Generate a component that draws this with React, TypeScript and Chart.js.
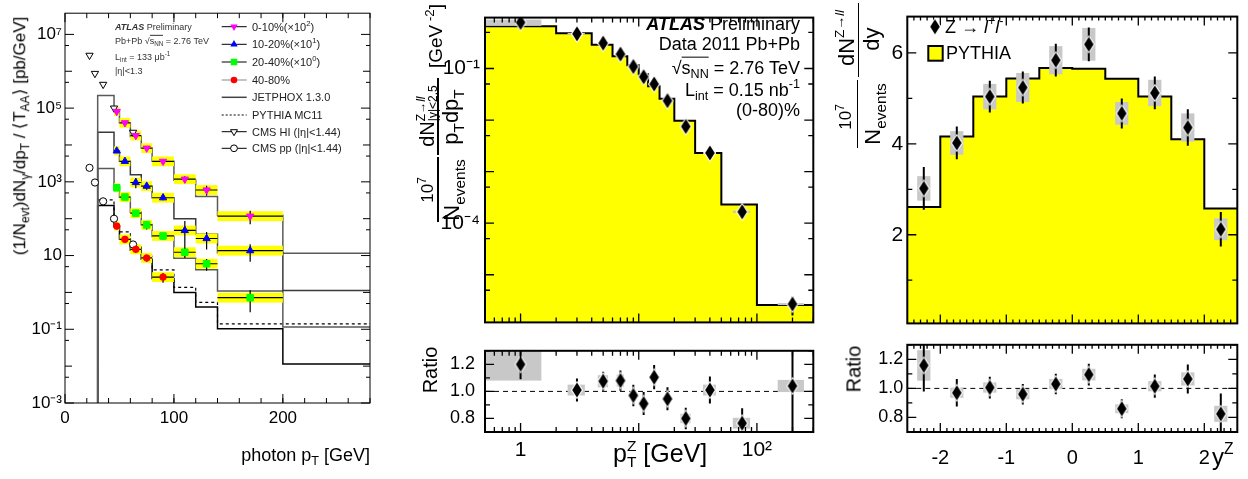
import React, { useEffect, useRef } from 'react';
import { Chart, registerables } from 'chart.js';

Chart.register(...registerables);

const FONT = "'Liberation Sans', Arial, Helvetica, sans-serif";
const YELLOW = '#ffff00';
const GRAY = '#c8c8c8';

/* ================= Left panel: isolated photons ================= */
const photonBinLo = [45, 50, 60, 70, 80, 100, 120, 140];
const photonBinHi = [50, 60, 70, 80, 100, 120, 140, 200];
const photonPt = [47.5, 55, 65, 75, 90, 110, 130, 170];
const photon0to10 = [8.1e4, 4.0e4, 1.8e4, 8.2e3, 3.6e3, 1.18e3, 600, 117];
const photon10to20 = [6.9e3, 3.6e3, 960, 765, 370, 48, 29, 13.6];
const photon20to40 = [690, 387, 141, 68, 34, 12.3, 6.0, 0.72];
const photon40to80 = [63, 27.5, 14.8, 8.6, 2.6];
const photonStat0to10 = [0.05, 0.06, 0.1, 0.1, 0.12, 0.2, 0.3, 0.4];
const photonStat10to20 = [0.1, 0.1, 0.3, 0.2, 0.15, 0.8, 0.5, 0.5];
const photonStat20to40 = [0.1, 0.1, 0.15, 0.25, 0.2, 0.3, 0.35, 0.6];
const photonStat40to80 = [0.1, 0.15, 0.2, 0.2, 0.3];
const photonSys = [1.32, 1.36, 1.36, 1.36, 1.36, 1.36, 1.36, 1.36];

const theoryEdges = [30, 45, 50, 60, 70, 80, 100, 120, 140, 200, 280];
const jetphox0to10 = [2.2e5, 8.5e4, 4.0e4, 1.7e4, 8.3e3, 3.6e3, 1.1e3, 400, 125, 11.5];
const jetphox10to20 = [2.2e4, 6.9e3, 3.6e3, 1.55e3, 760, 370, 100, 38, 12, 1.12];
const jetphox20to40 = [2.3e3, 720, 380, 150, 70, 33, 8.5, 4.1, 1.1, 0.115];
const jetphox40to80 = [229, 62, 28, 14, 8.0, 2.4, 1.0, 0.4, 0.104, 0.0115];
const pythia40to80 = [324, 68, 44, 17, 9.5, 4.1, 1.37, 0.54, 0.141, 0.141];

const cmsPt = [22.5, 27.5, 35, 45, 62.5];
const cmsHI = [2.7e6, 8.7e5, 4.4e5, 1.0e5, 2.2e4];
const cmsPP = [2.4e3, 960, 296, 100, 20];

const photonXTicks = [0, 100, 200];
const photonXLabels = ['0', '100', '200'];
const photonYTicks = [1e-3, 1e-1, 10, 1e3, 1e5, 1e7];
const photonYLabels = ['10⁻³', '10⁻¹', '10', '10³', '10⁵', '10⁷'];

/* ================= Middle panel: Z pT ================= */
const zptBinLo = [0, 2, 4, 6, 8, 10, 12, 15, 20, 30, 50, 100];
const zptBinHi = [2, 4, 6, 8, 10, 12, 15, 20, 30, 50, 100, 300];
const zptCenter = [1, 3, 5, 7, 9, 11, 13.5, 17.5, 25, 40, 75, 200];
const zptData = [0.78, 0.47, 0.31, 0.19, 0.109, 0.069, 0.05, 0.0237, 0.0075, 0.0023, 1.66e-4, 2.7e-6];
const zptStat = [0.1, 0.08, 0.07, 0.07, 0.08, 0.09, 0.08, 0.09, 0.1, 0.1, 0.14, 0.4];
const zptSys = [0.14, 0.04, 0.045, 0.045, 0.03, 0.03, 0.03, 0.03, 0.04, 0.04, 0.05, 0.045];
const zptPythia = [0.66, 0.48, 0.29, 0.172, 0.115, 0.077, 0.045, 0.026, 0.0097, 0.0023, 2.3e-4, 2.6e-6];
const zptRatio = [1.2, 1.01, 1.075, 1.08, 0.97, 0.91, 1.105, 0.945, 0.8, 1.01, 0.765, 1.04];
const zptRatioStat = [0.11, 0.085, 0.07, 0.075, 0.08, 0.085, 0.09, 0.085, 0.08, 0.1, 0.11, 0.5];
const zptRatioSys = [0.12, 0.04, 0.045, 0.045, 0.02, 0.02, 0.02, 0.02, 0.035, 0.04, 0.04, 0.045];
const zptXTicks = [1, 100];
const zptXLabels = ['1', '10²'];
const zptYTicks = [1e-5, 1e-4, 1e-3, 1e-2, 1e-1];
const zptYLabels = ['', '10⁻⁴', '', '', '10⁻¹'];
const ZPT_MIN = 0.5;
const ZPT_MAX = 300;

/* ================= Right panel: Z rapidity ================= */
const rapEdges = [-2.5, -2, -1.5, -1, -0.5, 0, 0.5, 1, 1.5, 2, 2.5];
const rapCenter = [-2.25, -1.75, -1.25, -0.75, -0.25, 0.25, 0.75, 1.25, 1.75, 2.25];
const rapData = [3.02, 4.02, 5.04, 5.24, 5.84, 6.19, 4.67, 5.12, 4.36, 2.12];
const rapStat = [0.47, 0.36, 0.35, 0.35, 0.36, 0.37, 0.33, 0.36, 0.4, 0.38];
const rapSys = [0.27, 0.26, 0.28, 0.32, 0.31, 0.36, 0.25, 0.29, 0.31, 0.24];
const rapPythia = [2.61, 4.16, 5.04, 5.44, 5.67, 5.65, 5.43, 5.04, 4.1, 2.58];
const rapRatio = [1.158, 0.97, 1.006, 0.96, 1.03, 1.095, 0.86, 1.015, 1.065, 0.825];
const rapRatioStat = [0.18, 0.095, 0.075, 0.07, 0.07, 0.075, 0.065, 0.08, 0.1, 0.14];
const rapRatioSys = [0.105, 0.035, 0.035, 0.035, 0.035, 0.04, 0.03, 0.035, 0.045, 0.055];
const rapXTicks = [-2, -1, 0, 1, 2];
const rapXLabels = ['-2', '-1', '0', '1', '2'];
const rapYTicks = [2, 4, 6];
const rapYLabels = ['2', '4', '6'];
const ratioYTicks = [0.8, 1.0, 1.2];
const ratioYLabels = ['0.8', '1.0', '1.2'];

/* ================= helpers ================= */
type Pt = { x: number; y: number };
const zip = (xs: number[], ys: number[]): Pt[] => ys.map((y, i) => ({ x: xs[i], y }));
function stepPoints(edges: number[], vals: number[], floor?: number): Pt[] {
  const pts: Pt[] = [];
  if (floor !== undefined) pts.push({ x: edges[0], y: floor });
  vals.forEach((v, i) => pts.push({ x: edges[i], y: v }));
  pts.push({ x: edges[vals.length], y: vals[vals.length - 1] });
  return pts;
}
function decades(lo: number, hi: number, mult: number): number[] {
  const out: number[] = [];
  for (let e = lo; e <= hi; e++) out.push(mult * Math.pow(10, e));
  return out;
}
function steps(a: number, b: number, d: number): number[] {
  const out: number[] = [];
  for (let v = a; v <= b + 1e-9; v += d) out.push(Math.round(v * 1000) / 1000);
  return out;
}

let diamondImg: HTMLCanvasElement | null = null;
function diamond() {
  if (diamondImg) return diamondImg;
  const c = document.createElement('canvas');
  c.width = 14;
  c.height = 20;
  const g = c.getContext('2d')!;
  g.beginPath();
  g.moveTo(7, 0.8); g.lineTo(13.2, 10); g.lineTo(7, 19.2); g.lineTo(0.8, 10); g.closePath();
  g.fillStyle = '#fff'; g.fill();
  g.beginPath();
  g.moveTo(7, 2.4); g.lineTo(11.8, 10); g.lineTo(7, 17.6); g.lineTo(2.2, 10); g.closePath();
  g.fillStyle = '#000'; g.fill();
  diamondImg = c;
  return c;
}

function drawShape(ctx: CanvasRenderingContext2D, kind: string, x: number, y: number, r: number, fill?: string, stroke?: string) {
  ctx.beginPath();
  if (kind === 'triDown') {
    ctx.moveTo(x, y + r); ctx.lineTo(x + r * 0.866, y - r / 2); ctx.lineTo(x - r * 0.866, y - r / 2); ctx.closePath();
  } else if (kind === 'triUp') {
    ctx.moveTo(x, y - r); ctx.lineTo(x + r * 0.866, y + r / 2); ctx.lineTo(x - r * 0.866, y + r / 2); ctx.closePath();
  } else if (kind === 'square') {
    ctx.rect(x - r * 0.707, y - r * 0.707, r * 1.414, r * 1.414);
  } else {
    ctx.arc(x, y, r, 0, Math.PI * 2);
  }
  if (fill) { ctx.fillStyle = fill; ctx.fill(); }
  if (stroke) { ctx.strokeStyle = stroke; ctx.lineWidth = 1; ctx.stroke(); }
}

/* ================= plugins ================= */
const rootFrame = {
  id: 'rootFrame',
  afterDraw(chart: any, _a: any, o: any) {
    if (!o || !o.xTicks) return;
    const { ctx, chartArea: a } = chart;
    const xs = chart.scales.x;
    const ys = chart.scales.y;
    ctx.save();
    ctx.strokeStyle = '#000';
    ctx.lineWidth = o.tickWidth || 1;
    ctx.beginPath();
    (o.xTicks as any[]).forEach((g) => g.vals.forEach((v: number) => {
      const p = xs.getPixelForValue(v);
      if (!(p >= a.left - 0.5 && p <= a.right + 0.5)) return;
      ctx.moveTo(p, a.bottom); ctx.lineTo(p, a.bottom - g.len);
      ctx.moveTo(p, a.top); ctx.lineTo(p, a.top + g.len);
    }));
    (o.yTicks as any[]).forEach((g) => g.vals.forEach((v: number) => {
      const p = ys.getPixelForValue(v);
      if (!(p >= a.top - 0.5 && p <= a.bottom + 0.5)) return;
      ctx.moveTo(a.left, p); ctx.lineTo(a.left + g.len, p);
      ctx.moveTo(a.right, p); ctx.lineTo(a.right - g.len, p);
    }));
    ctx.stroke();
    ctx.lineWidth = o.frameWidth || 1;
    ctx.strokeRect(a.left, a.top, a.right - a.left, a.bottom - a.top);
    ctx.restore();
  },
};

const decor = {
  id: 'decor',
  beforeDatasetDraw(chart: any, args: any, o: any) {
    const ds = chart.data.datasets[args.index];
    if (!ds || !ds.decorBefore || !o) return;
    const { ctx, chartArea: a } = chart;
    const xs = chart.scales.x;
    const ys = chart.scales.y;
    ctx.save();
    ctx.beginPath();
    ctx.rect(a.left, a.top, a.right - a.left, a.bottom - a.top);
    ctx.clip();
    (o.boxes || []).forEach((b: any) => {
      const x0 = xs.getPixelForValue(b.x0), x1 = xs.getPixelForValue(b.x1);
      const y0 = ys.getPixelForValue(b.y0), y1 = ys.getPixelForValue(b.y1);
      ctx.fillStyle = b.color;
      ctx.fillRect(Math.min(x0, x1), Math.min(y0, y1), Math.abs(x1 - x0), Math.abs(y1 - y0));
    });
    (o.hbars || []).forEach((b: any) => {
      const y = ys.getPixelForValue(b.y);
      ctx.strokeStyle = b.color; ctx.lineWidth = b.w;
      ctx.beginPath(); ctx.moveTo(xs.getPixelForValue(b.x0), y); ctx.lineTo(xs.getPixelForValue(b.x1), y); ctx.stroke();
    });
    (o.vbars || []).forEach((b: any) => {
      const x = xs.getPixelForValue(b.x);
      ctx.strokeStyle = b.color; ctx.lineWidth = b.w;
      ctx.beginPath(); ctx.moveTo(x, ys.getPixelForValue(b.y0)); ctx.lineTo(x, ys.getPixelForValue(b.y1)); ctx.stroke();
    });
    ctx.restore();
  },
};

const symbols = {
  id: 'symbols',
  afterDraw(chart: any, _a: any, o: any) {
    if (!o || !o.items) return;
    const ctx: CanvasRenderingContext2D = chart.ctx;
    ctx.save();
    (o.items as any[]).forEach((it) => {
      if (it.t === 'line') {
        ctx.strokeStyle = it.color; ctx.lineWidth = it.w; ctx.setLineDash(it.dash || []);
        ctx.beginPath(); ctx.moveTo(it.x0, it.y); ctx.lineTo(it.x1, it.y); ctx.stroke();
        ctx.setLineDash([]);
      } else if (it.t === 'shape') {
        drawShape(ctx, it.kind, it.x, it.y, it.r, it.fill, it.stroke);
      } else if (it.t === 'img') {
        ctx.drawImage(it.img, it.x - it.img.width / 2, it.y - it.img.height / 2);
      } else if (it.t === 'rect') {
        ctx.fillStyle = it.fill; ctx.fillRect(it.x0, it.y0, it.x1 - it.x0, it.y1 - it.y0);
        ctx.strokeStyle = it.stroke; ctx.lineWidth = it.w; ctx.strokeRect(it.x0, it.y0, it.x1 - it.x0, it.y1 - it.y0);
      }
    });
    ctx.restore();
  },
};

Chart.register(rootFrame, decor, symbols);

function axis(o: {
  type: 'linear' | 'logarithmic'; min: number; max: number; isX: boolean; size: number;
  ticks: number[]; labels: string[] | null; font?: number; pad?: number;
}) {
  return {
    type: o.type,
    min: o.min,
    max: o.max,
    display: true,
    grid: { display: false, drawTicks: false },
    border: { display: false },
    afterFit: (s: any) => { if (o.isX) s.height = o.size; else s.width = o.size; },
    afterBuildTicks: (s: any) => { s.ticks = o.ticks.map((v) => ({ value: v })); },
    ticks: {
      display: !!o.labels,
      autoSkip: false,
      maxRotation: 0,
      minRotation: 0,
      padding: o.pad ?? 4,
      color: '#000',
      font: { family: FONT, size: o.font ?? 16 },
      callback: (_v: any, i: number) => (o.labels ? o.labels[i] ?? '' : ''),
    },
  };
}

function baseOptions(padding: any, x: any, y: any, plugins: any) {
  return {
    responsive: false,
    animation: false,
    events: [],
    layout: { padding },
    plugins: { legend: { display: false }, tooltip: { enabled: false }, ...plugins },
    scales: { x, y },
  };
}

const markerSet = (data: Pt[], style: any, rot: number, r: number, fill: string, border: string, extra: any = {}) => ({
  data, showLine: false, pointStyle: style, pointRotation: rot, pointRadius: r,
  pointBackgroundColor: fill, pointBorderColor: border, pointBorderWidth: 1, ...extra,
});
const histSet = (data: Pt[], color: string, width: number, extra: any = {}) => ({
  data, showLine: true, stepped: 'before', borderColor: color, borderWidth: width, pointRadius: 0, fill: false, ...extra,
});

/* ================= configs ================= */
function leftConfig() {
  const cent = [
    { vals: photon0to10, stat: photonStat0to10, color: '#ff00ff', style: 'triangle', rot: 180, r: 4.2 },
    { vals: photon10to20, stat: photonStat10to20, color: '#0000ff', style: 'triangle', rot: 0, r: 4.2 },
    { vals: photon20to40, stat: photonStat20to40, color: '#00ff00', style: 'rect', rot: 0, r: 4.6 },
    { vals: photon40to80, stat: photonStat40to80, color: '#ff0000', style: 'circle', rot: 0, r: 3.3 },
  ];
  const boxes: any[] = [], hbars: any[] = [], vbars: any[] = [];
  cent.forEach((c) => c.vals.forEach((v, i) => {
    boxes.push({ x0: photonBinLo[i], x1: photonBinHi[i], y0: v / photonSys[i], y1: v * photonSys[i], color: YELLOW });
  }));
  cent.forEach((c) => c.vals.forEach((v, i) => {
    hbars.push({ x0: photonBinLo[i], x1: photonBinHi[i], y: v, w: 1.2, color: '#000' });
    vbars.push({ x: photonPt[i], y0: v * (1 - c.stat[i]), y1: v * (1 + c.stat[i]), w: 1.2, color: '#000' });
  }));
  const datasets = [
    ...cent.map((c) => markerSet(zip(photonPt, c.vals), c.style, c.rot, c.r, c.color, c.color)),
    markerSet(zip(cmsPt, cmsHI), 'triangle', 180, 4.2, '#fff', '#000'),
    markerSet(zip(cmsPt, cmsPP), 'circle', 0, 3.6, '#fff', '#000', { decorBefore: true }),
    histSet(stepPoints(theoryEdges, jetphox0to10, 1e-5), '#5a5a5a', 1.5),
    histSet(stepPoints(theoryEdges, jetphox10to20, 1e-5), '#3a3a3a', 1.5),
    histSet(stepPoints(theoryEdges, jetphox20to40, 1e-5), '#5a5a5a', 1.5),
    histSet(stepPoints(theoryEdges, jetphox40to80, 1e-5), '#000', 1.5),
    histSet(stepPoints(theoryEdges, pythia40to80), '#000', 1.2, { borderDash: [3, 3] }),
  ];
  const rows = [26.7, 44.3, 62, 80, 97.3, 115, 131.7, 148.3];
  const L0 = 221.7, L1 = 246.7, MX = 234;
  const items: any[] = [
    { t: 'line', x0: L0, x1: L1, y: rows[0], color: '#000', w: 1 },
    { t: 'shape', kind: 'triDown', x: MX, y: rows[0], r: 4.2, fill: '#ff00ff' },
    { t: 'line', x0: L0, x1: L1, y: rows[1], color: '#000', w: 1 },
    { t: 'shape', kind: 'triUp', x: MX, y: rows[1], r: 4.2, fill: '#0000ff' },
    { t: 'line', x0: L0, x1: L1, y: rows[2], color: '#000', w: 1 },
    { t: 'shape', kind: 'square', x: MX, y: rows[2], r: 4.6, fill: '#00ff00' },
    { t: 'line', x0: L0, x1: L1, y: rows[3], color: '#888', w: 1 },
    { t: 'shape', kind: 'circle', x: MX, y: rows[3], r: 3.3, fill: '#ff0000' },
    { t: 'line', x0: L0, x1: L1, y: rows[4], color: '#444', w: 1.5 },
    { t: 'line', x0: L0, x1: L1, y: rows[5], color: '#000', w: 1, dash: [2, 2] },
    { t: 'line', x0: L0, x1: L1, y: rows[6], color: '#000', w: 1 },
    { t: 'shape', kind: 'triDown', x: MX, y: rows[6], r: 4, fill: '#fff', stroke: '#000' },
    { t: 'line', x0: L0, x1: L1, y: rows[7], color: '#000', w: 1 },
    { t: 'shape', kind: 'circle', x: MX, y: rows[7], r: 3.4, fill: '#fff', stroke: '#000' },
  ];
  return {
    type: 'line',
    data: { datasets },
    options: baseOptions(
      { left: 0, top: 9.3, right: 10, bottom: 0 },
      axis({ type: 'linear', min: 0, max: 280, isX: true, size: 76, ticks: photonXTicks, labels: photonXLabels, font: 17, pad: 5 }),
      axis({ type: 'logarithmic', min: 1e-3, max: 3.76e7, isX: false, size: 65, ticks: photonYTicks, labels: photonYLabels, font: 17, pad: 3 }),
      {
        rootFrame: {
          frameWidth: 1, tickWidth: 1,
          xTicks: [{ vals: [0, 100, 200], len: 9 }, { vals: steps(20, 280, 20), len: 5 }],
          yTicks: [{ vals: decades(-3, 7, 1).filter((_, i) => i % 2 === 0), len: 9 }, { vals: decades(-2, 6, 1).filter((_, i) => i % 2 === 0), len: 7 }, { vals: decades(-3, 7, 5), len: 4 }],
        },
        decor: { boxes, hbars, vbars },
        symbols: { items },
      },
    ),
  };
}

const zptMinor = [0.6, 0.7, 0.8, 0.9, 2, 3, 4, 5, 6, 7, 8, 9, 20, 30, 40, 50, 60, 70, 80, 90, 200, 300];

function midTopConfig() {
  const boxes = zptCenter.map((c, i) => {
    const hw = (zptBinHi[i] - zptBinLo[i]) / 4;
    return { x0: c - hw, x1: c + hw, y0: zptData[i] * (1 - zptSys[i]), y1: zptData[i] * (1 + zptSys[i]), color: GRAY };
  });
  const vbars = zptCenter.map((c, i) => ({ x: c, y0: zptData[i] * (1 - zptStat[i]), y1: zptData[i] * (1 + zptStat[i]), w: 2, color: '#000' }));
  const edges = [...zptBinLo.map((v) => Math.max(v, ZPT_MIN)), zptBinHi[zptBinHi.length - 1]];
  return {
    type: 'line',
    data: {
      datasets: [
        markerSet(zip(zptCenter, zptData), diamond(), 0, 5, '#000', '#000', { decorBefore: true }),
        histSet(stepPoints(edges, zptPythia), '#000', 2, { fill: 'start', backgroundColor: YELLOW }),
      ],
    },
    options: baseOptions(
      { left: 0, top: 4, right: 6.7, bottom: 0 },
      axis({ type: 'logarithmic', min: ZPT_MIN, max: ZPT_MAX, isX: true, size: 5, ticks: zptXTicks, labels: null }),
      axis({ type: 'logarithmic', min: 1.19e-6, max: 0.97, isX: false, size: 65, ticks: zptYTicks, labels: zptYLabels, font: 21, pad: 5 }),
      {
        rootFrame: {
          frameWidth: 2, tickWidth: 1.3,
          xTicks: [{ vals: [1, 10, 100], len: 9 }, { vals: zptMinor, len: 5 }],
          yTicks: [{ vals: decades(-6, -1, 1), len: 9 }, { vals: decades(-6, -1, 5), len: 5 }],
        },
        decor: { boxes, vbars },
      },
    ),
  };
}

function midRatioConfig() {
  const boxes = zptCenter.map((c, i) => {
    const hw = (zptBinHi[i] - zptBinLo[i]) / 4;
    return { x0: c - hw, x1: c + hw, y0: zptRatio[i] - zptRatioSys[i], y1: zptRatio[i] + zptRatioSys[i], color: GRAY };
  });
  const vbars = zptCenter.map((c, i) => ({ x: c, y0: zptRatio[i] - zptRatioStat[i], y1: zptRatio[i] + zptRatioStat[i], w: 2, color: '#000' }));
  return {
    type: 'line',
    data: {
      datasets: [
        markerSet(zip(zptCenter, zptRatio), diamond(), 0, 5, '#000', '#000', { decorBefore: true }),
        { data: [{ x: ZPT_MIN, y: 1 }, { x: ZPT_MAX, y: 1 }], showLine: true, borderColor: '#000', borderWidth: 1, borderDash: [5, 4], pointRadius: 0 },
      ],
    },
    options: baseOptions(
      { left: 0, top: 6, right: 6.7, bottom: 0 },
      axis({ type: 'logarithmic', min: ZPT_MIN, max: ZPT_MAX, isX: true, size: 47, ticks: zptXTicks, labels: zptXLabels, font: 21, pad: 6 }),
      axis({ type: 'linear', min: 0.7, max: 1.3, isX: false, size: 65, ticks: ratioYTicks, labels: ratioYLabels, font: 18, pad: 10 }),
      {
        rootFrame: {
          frameWidth: 2, tickWidth: 1.3,
          xTicks: [{ vals: [1, 10, 100], len: 9 }, { vals: zptMinor, len: 5 }],
          yTicks: [{ vals: [0.8, 1.0, 1.2], len: 9 }, { vals: [0.7, 0.9, 1.1, 1.3], len: 5 }],
        },
        decor: { boxes, vbars },
      },
    ),
  };
}

function rightTopConfig() {
  const boxes = rapCenter.map((c, i) => ({ x0: c - 0.1, x1: c + 0.1, y0: rapData[i] - rapSys[i], y1: rapData[i] + rapSys[i], color: GRAY }));
  const vbars = rapCenter.map((c, i) => ({ x: c, y0: rapData[i] - rapStat[i], y1: rapData[i] + rapStat[i], w: 2, color: '#000' }));
  return {
    type: 'line',
    data: {
      datasets: [
        markerSet(zip(rapCenter, rapData), diamond(), 0, 5, '#000', '#000', { decorBefore: true }),
        histSet(stepPoints(rapEdges, rapPythia), '#000', 2, { fill: 'start', backgroundColor: YELLOW }),
      ],
    },
    options: baseOptions(
      { left: 0, top: 3.3, right: 10.7, bottom: 0 },
      axis({ type: 'linear', min: -2.5, max: 2.5, isX: true, size: 5, ticks: rapXTicks, labels: null }),
      axis({ type: 'linear', min: 0.05, max: 6.8, isX: false, size: 87.3, ticks: rapYTicks, labels: rapYLabels, font: 21, pad: 4 }),
      {
        rootFrame: {
          frameWidth: 2, tickWidth: 1.3,
          xTicks: [{ vals: [-2, -1, 0, 1, 2], len: 9 }, { vals: steps(-2.4, 2.4, 0.1), len: 4 }],
          yTicks: [{ vals: [2, 4, 6], len: 9 }, { vals: [1, 3, 5], len: 5 }],
        },
        decor: { boxes, vbars },
        symbols: {
          items: [
            { t: 'img', img: diamond(), x: 115, y: 26.7 },
            { t: 'rect', x0: 108.3, y0: 46, x1: 122.7, y1: 60.7, fill: YELLOW, stroke: '#000', w: 2 },
          ],
        },
      },
    ),
  };
}

function rightRatioConfig() {
  const boxes = rapCenter.map((c, i) => ({ x0: c - 0.1, x1: c + 0.1, y0: rapRatio[i] - rapRatioSys[i], y1: rapRatio[i] + rapRatioSys[i], color: GRAY }));
  const vbars = rapCenter.map((c, i) => ({ x: c, y0: rapRatio[i] - rapRatioStat[i], y1: rapRatio[i] + rapRatioStat[i], w: 2, color: '#000' }));
  return {
    type: 'line',
    data: {
      datasets: [
        markerSet(zip(rapCenter, rapRatio), diamond(), 0, 5, '#000', '#000', { decorBefore: true }),
        { data: [{ x: -2.5, y: 1 }, { x: 2.5, y: 1 }], showLine: true, borderColor: '#000', borderWidth: 1, borderDash: [5, 4], pointRadius: 0 },
      ],
    },
    options: baseOptions(
      { left: 0, top: 6, right: 10.7, bottom: 0 },
      axis({ type: 'linear', min: -2.5, max: 2.5, isX: true, size: 47, ticks: rapXTicks, labels: rapXLabels, font: 20, pad: 14 }),
      axis({ type: 'linear', min: 0.7, max: 1.3, isX: false, size: 87.3, ticks: ratioYTicks, labels: ratioYLabels, font: 18, pad: 4 }),
      {
        rootFrame: {
          frameWidth: 2, tickWidth: 1.3,
          xTicks: [{ vals: [-2, -1, 0, 1, 2], len: 9 }, { vals: steps(-2.4, 2.4, 0.1), len: 4 }],
          yTicks: [{ vals: [0.8, 1.0, 1.2], len: 9 }, { vals: [0.7, 0.9, 1.1, 1.3], len: 5 }],
        },
        decor: { boxes, vbars },
      },
    ),
  };
}

/* ================= React ================= */
function ChartBox({ x, y, w, h, make }: { x: number; y: number; w: number; h: number; make: () => any }) {
  const ref = useRef<HTMLCanvasElement>(null);
  useEffect(() => {
    const chart = new Chart(ref.current as HTMLCanvasElement, make());
    return () => chart.destroy();
  }, []);
  return <canvas ref={ref} width={w} height={h} style={{ position: 'absolute', left: x, top: y, width: w, height: h }} />;
}

const Sup = ({ children, k = 0.7 }: any) => (
  <span style={{ fontSize: `${k}em`, verticalAlign: `${0.45 / k}em`, lineHeight: 0 }}>{children}</span>
);
const Sub = ({ children, k = 0.7 }: any) => (
  <span style={{ fontSize: `${k}em`, verticalAlign: `${-0.25 / k}em`, lineHeight: 0 }}>{children}</span>
);
const SupSub = ({ sup, sub, k = 0.6 }: any) => (
  <span style={{ display: 'inline-flex', flexDirection: 'column', fontSize: `${k}em`, lineHeight: 1, verticalAlign: `${0.45 / k}em` }}>
    <span>{sup}</span>
    <span>{sub}</span>
  </span>
);
const Sqrt = ({ children }: any) => (
  <span>
    √<span style={{ borderTop: '1px solid currentColor' }}>{children}</span>
  </span>
);

function Txt({ x, y, size, align = 'left', color = '#000', children }: any) {
  const tx = align === 'right' ? '-100%' : align === 'center' ? '-50%' : '0';
  return (
    <div style={{ position: 'absolute', left: x, top: y, transform: `translate(${tx}, -50%)`, fontSize: size, lineHeight: 1.15, whiteSpace: 'nowrap', color }}>
      {children}
    </div>
  );
}
function Rot({ x, y, size, children }: any) {
  return (
    <div style={{ position: 'absolute', left: x, top: y, transform: 'translate(-50%, -50%) rotate(-90deg)', fontSize: size, lineHeight: 1.15, whiteSpace: 'nowrap' }}>
      {children}
    </div>
  );
}
function VLine({ x, y0, y1, w = 1.6 }: any) {
  return <div style={{ position: 'absolute', left: x - w / 2, top: y0, width: w, height: y1 - y0, background: '#000' }} />;
}

export default function App() {
  const legendRows = [26.7, 44.3, 62, 80, 97.3, 115, 131.7, 148.3];
  return (
    <div style={{ position: 'absolute', left: 0, top: 0, width: 1248, height: 479, overflow: 'hidden', background: '#fff', fontFamily: FONT, color: '#000' }}>
      <ChartBox x={0} y={0} w={380} h={479} make={leftConfig} />
      <ChartBox x={420} y={0} w={400} h={340} make={midTopConfig} />
      <ChartBox x={420} y={330} w={400} h={149} make={midRatioConfig} />
      <ChartBox x={820} y={0} w={428} h={340} make={rightTopConfig} />
      <ChartBox x={820} y={330} w={428} h={149} make={rightRatioConfig} />

      {/* ---- left panel text ---- */}
      <Txt x={115} y={26.7} size={9} color="#333"><b><i>ATLAS</i></b> Preliminary</Txt>
      <Txt x={115} y={41} size={9} color="#333">Pb+Pb <Sqrt>s<Sub>NN</Sub></Sqrt> = 2.76 TeV</Txt>
      <Txt x={115} y={57} size={9} color="#333">L<Sub>int</Sub> = 133 μb<Sup>-1</Sup></Txt>
      <Txt x={115} y={71} size={9} color="#333">|η|&lt;1.3</Txt>

      <Txt x={252} y={legendRows[0]} size={11} color="#222">0-10%(×10<Sup>2</Sup>)</Txt>
      <Txt x={252} y={legendRows[1]} size={11} color="#222">10-20%(×10<Sup>1</Sup>)</Txt>
      <Txt x={252} y={legendRows[2]} size={11} color="#222">20-40%(×10<Sup>0</Sup>)</Txt>
      <Txt x={252} y={legendRows[3]} size={11} color="#222">40-80%</Txt>
      <Txt x={252} y={legendRows[4]} size={11} color="#222">JETPHOX 1.3.0</Txt>
      <Txt x={252} y={legendRows[5]} size={11} color="#222">PYTHIA MC11</Txt>
      <Txt x={252} y={legendRows[6]} size={11} color="#222">CMS HI (|η|&lt;1.44)</Txt>
      <Txt x={252} y={legendRows[7]} size={11} color="#222">CMS pp (|η|&lt;1.44)</Txt>

      <Rot x={20} y={136} size={17}>
        (1/N<Sub>evt</Sub>)dN<Sub>γ</Sub>/dp<Sub>T</Sub> / ⟨T<Sub>AA</Sub>⟩ [pb/GeV]
      </Rot>
      <Txt x={370} y={455} size={18} align="right">photon p<Sub>T</Sub> [GeV]</Txt>

      {/* ---- middle panel text ---- */}
      <Txt x={800} y={23.5} size={18} align="right"><b><i>ATLAS</i></b> Preliminary</Txt>
      <Txt x={800} y={43.5} size={18} align="right">Data 2011 Pb+Pb</Txt>
      <Txt x={800} y={68} size={18} align="right"><Sqrt>s<Sub>NN</Sub></Sqrt> = 2.76 TeV</Txt>
      <Txt x={800} y={90} size={18} align="right">L<Sub>int</Sub> = 0.15 nb<Sup>-1</Sup></Txt>
      <Txt x={800} y={110} size={18} align="right">(0-80)%</Txt>

      <Rot x={436} y={36} size={19}>[GeV<Sup> -2</Sup>]</Rot>
      <Rot x={427} y={116} size={20}>dN<SupSub sup={<span>Z→<i>ll</i></span>} sub="|y|<2.5" /></Rot>
      <VLine x={438} y0={78} y1={155} />
      <Rot x={451} y={117} size={22}>p<Sub>T</Sub>dp<Sub>T</Sub></Rot>
      <Rot x={428} y={190} size={17}>10<Sup>7</Sup></Rot>
      <VLine x={438} y0={157} y1={222} />
      <Rot x={452} y={190} size={22}>N<Sub>events</Sub></Rot>

      <Rot x={430} y={370} size={20}>Ratio</Rot>
      <Txt x={613} y={453} size={25}>p<SupSub sup="Z" sub="T" k={0.62} /> [GeV]</Txt>

      {/* ---- right panel text ---- */}
      <Txt x={945} y={27} size={18}>Z → <i>l</i><Sup>+</Sup><i>l</i><Sup>-</Sup></Txt>
      <Txt x={946} y={53} size={18}>PYTHIA</Txt>

      <Rot x={847} y={38} size={22}>dN<Sup k={0.62}>Z→<i>ll</i></Sup></Rot>
      <VLine x={858.5} y0={3} y1={77} />
      <Rot x={872} y={39} size={22}>dy</Rot>
      <Rot x={846} y={117} size={17}>10<Sup>7</Sup></Rot>
      <VLine x={857.5} y0={80} y1={148} />
      <Rot x={873} y={114} size={22}>N<Sub>events</Sub></Rot>

      <Rot x={853.5} y={369} size={20}>Ratio</Rot>
      <Txt x={1212} y={457} size={24}>y<Sup k={0.65}>Z</Sup></Txt>
    </div>
  );
}
